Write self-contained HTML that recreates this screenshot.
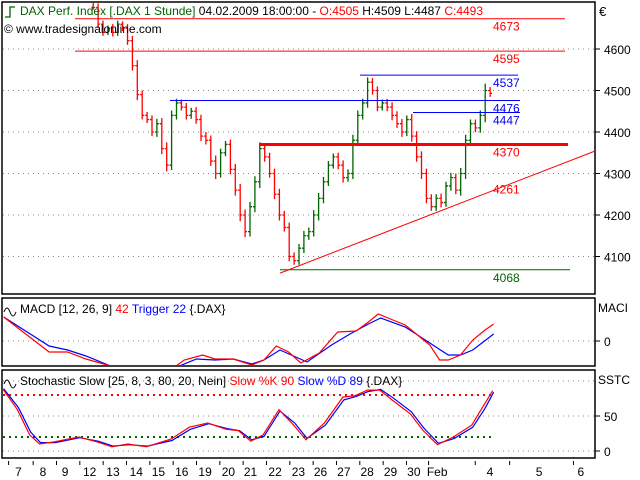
<!DOCTYPE html>
<html><head><meta charset="utf-8"><style>
body{margin:0;background:#fff;}
svg{display:block;font-family:"Liberation Sans",sans-serif;}
</style></head><body>
<svg id="c" width="640" height="480">
<rect x="0" y="0" width="640" height="480" fill="#fff"/>
</svg>
<script>
// ===== data =====
const closes=[4980,4960,4940,4950,4920,4900,4880,4890,4860,4850,4830,4840,4810,4790,4780,4760,4740,4720,4700,
4660,4640,4650,4640,4660,4650,4620,4560,4490,4440,4430,4400,4420,4360,4320,4440,4470,4460,4440,4450,4430,
4390,4380,4330,4300,4350,4370,4310,4260,4200,4160,4220,4280,4360,4340,4300,4250,4200,4170,4100,4090,
4120,4150,4160,4200,4240,4280,4320,4340,4320,4290,4300,4380,4440,4470,4520,4500,4460,4470,4460,4440,
4420,4400,4430,4390,4340,4300,4240,4220,4240,4230,4270,4290,4260,4300,4380,4420,4410,4440,4500,4493];
const ranges=[20,25,15,20,25,20,15,20,25,20,15,20,25,20,15,20,25,20,15,
30,25,20,30,25,20,30,35,40,30,25,30,35,40,45,35,30,25,30,25,30,
35,30,35,40,30,25,35,40,45,40,35,40,45,35,30,35,40,30,35,30,
30,35,30,35,40,35,30,25,30,35,30,40,35,30,35,30,30,25,30,35,
30,35,30,40,35,40,35,30,30,35,30,35,30,40,40,30,30,35,50,25];
const priceTicks=[4600,4500,4400,4300,4200,4100];
const levelVals=[4673,4595,4537,4476,4447,4370,4261,4068];
const macdX=[3,40,55,70,90,100,120,140,150,165,175,190,205,215,225,235,245,260,275,290,300,308,320,330,340,350,358,365,375,385,395,402];
const macdRed=[24,-11,-11,-18,-25,-30,-32,-28,-19,-14,-18,-18,-24,-19,-5,-11,-22,-12,9,10,19,27,21,16,6,-4,-19,-19,-14,1,11,17];
const trigX=[3,40,55,70,90,100,120,140,160,175,190,205,215,228,250,270,285,300,310,330,350,365,375,385,402];
const macdBlue=[24,-5,-9,-15,-25,-30,-32,-28,-18,-19,-18,-23,-19,-9,-21,-4,7,17,23,14,-2,-14,-14,-9,7];
const stochX=[3,15,25,33,45,65,80,92,105,120,140,155,170,185,195,205,215,228,240,250,265,280,290,300,310,320,335,345,357,370,385,395,402];
const slowK=[89,59,23,10,13,20,13,6,10,6,17,34,40,31,29,14,23,59,37,16,40,77,79,87,87,73,53,30,9,20,37,66,86];
const slowD=[89,62,27,12,12,19,14,7,9,7,15,31,39,32,29,16,21,57,40,18,37,73,78,85,88,76,56,33,11,18,34,61,84];
const dayLabels=["7","8","9","12","13","14","15","16","19","20","21","22","23","26","27","28","29","30","Feb","4","5","6"];
const dayLabelX=[15,35,53,73,92,111,129,148,167,186,204,224,243,261,280,299,318,337,356,399,439,473];
const dayTickX=[7,27,46,65,84,103,122,141,160,179,198,217,236,255,274,293,312,331,349,387,415,467];

// ===== helpers =====
const svg=document.getElementById('c');const NS='http://www.w3.org/2000/svg';
function mk(t,a,p){const e=document.createElementNS(NS,t);for(const k in a)e.setAttribute(k,a[k]);(p||svg).appendChild(e);return e;}
function txt(x,y,s,fill,size,anchor){const e=mk('text',{x:x,y:y,fill:fill,'font-size':size||12,'text-anchor':anchor||'start'});e.textContent=s;return e;}
const py=p=>49+(4600-p)*0.415;
const bx=i=>5+i*4.9;
const my=v=>341-v;
const sy=v=>451-v*0.7;
const ix=x=>x*1.228;

// panels
let e;
e=mk('rect',{x:2,y:2,width:593,height:292,fill:'none',stroke:'#000','stroke-width':1.5});

e=mk('rect',{x:2,y:298,width:593,height:68,fill:'none',stroke:'#000','stroke-width':1.5});

e=mk('rect',{x:2,y:370,width:593,height:88,fill:'none',stroke:'#000','stroke-width':1.5});


const clipP=mk('clipPath',{id:'cp'});mk('rect',{x:3,y:3,width:591,height:290},clipP);
const clipM=mk('clipPath',{id:'cm'});mk('rect',{x:3,y:299,width:591,height:66},clipM);
const clipS=mk('clipPath',{id:'cs'});mk('rect',{x:3,y:371,width:591,height:86},clipS);

// price grid & axis
priceTicks.forEach(p=>{
 e=mk('line',{x1:3,x2:594,y1:py(p),y2:py(p),stroke:'#888','stroke-dasharray':'1,4'});
 
 mk('line',{x1:595,x2:600,y1:py(p),y2:py(p),stroke:'#000'});
 e=txt(604,py(p)+5,String(p),'#000',12);
 
});
e=txt(599,16,'€','#000',13);

const gP=mk('g',{'clip-path':'url(#cp)'});
// bars
closes.forEach((c,i)=>{
 const o=i>0?closes[i-1]:c;const r=ranges[i];
 const hi=Math.max(o,c)+r/3,lo=Math.min(o,c)-r/3;
 const col=c>=o?'#006400':'#ff0000';const x=bx(i);
 const b=mk('path',{d:`M${x} ${py(hi)}V${py(lo)}M${x-2} ${py(o)}H${x}M${x} ${py(c)}H${x+2}`,stroke:col,'stroke-width':1.3,fill:'none'},gP);
 
});
// levels
const levelDefs=[[75,565,'#ff0000',1,'#ff0000'],[75,565,'#ff0000',1,'#ff0000'],[360,518,'#0000ff',1,'#0000ff'],[170,520,'#0000ff',1,'#0000ff'],[413,520,'#0000ff',1,'#0000ff'],[260,568,'#ff0000',3,'#ff0000'],[null,null,null,0,'#ff0000'],[280,570,'#006400',1,'#006400']];
const labelDy=[12,12,12,12,12,12,0,12];
levelVals.forEach((v,i)=>{
 const d=levelDefs[i];
 if(d[0]!==null){e=mk('line',{x1:d[0],x2:d[1],y1:py(v),y2:py(v),stroke:d[2],'stroke-width':d[3]},gP);
 }
 e=txt(493,py(v)+labelDy[i]+(i==6?4:0),String(v),d[4],12);
 
});
e=mk('line',{x1:280,y1:py(4060),x2:596,y2:py(4355),stroke:'#ff0000','stroke-width':1},gP);


// title
e=mk('path',{d:'M5 17H10V7H15',stroke:'#006400',fill:'none','stroke-width':1.3});
e=txt(20,15,'','#000',12);
e.innerHTML='<tspan fill="#006400">DAX Perf. Index [.DAX  1 Stunde]</tspan><tspan fill="#000"> 04.02.2009 18:00:00 - </tspan><tspan fill="#ff0000">O:4505 </tspan><tspan fill="#000">H:4509 L:4487 </tspan><tspan fill="#ff0000">C:4493</tspan>';

e=txt(4,33,'© www.tradesignalonline.com','#000',12);


// MACD
e=mk('line',{x1:3,x2:594,y1:341,y2:341,stroke:'#888','stroke-dasharray':'1,4'});
mk('line',{x1:595,x2:600,y1:341,y2:341,stroke:'#000'});
txt(604,346,'0','#000',12);
e=txt(598,312,'MACI','#000',12);
const gM=mk('g',{'clip-path':'url(#cm)'});
e=mk('polyline',{points:trigX.map((x,i)=>ix(x)+','+my(macdBlue[i])).join(' '),fill:'none',stroke:'#0000ff','stroke-width':1.2},gM);

e=mk('polyline',{points:macdX.map((x,i)=>ix(x)+','+my(macdRed[i])).join(' '),fill:'none',stroke:'#ff0000','stroke-width':1.2},gM);

e=txt(20,313,'','#000',12);
e.innerHTML='<tspan>MACD [12, 26, 9] </tspan><tspan fill="#ff0000">42 </tspan><tspan fill="#0000ff">Trigger 22 </tspan><tspan>{.DAX}</tspan>';

mk('path',{d:'M4 312q3-8 6 0t6 0',stroke:'#000',fill:'none'});

// Stochastic
[0,50,100].forEach(g=>{mk('line',{x1:3,x2:594,y1:sy(g),y2:sy(g),stroke:'#888','stroke-dasharray':'1,4'});});
[0,50].forEach(v=>{mk('line',{x1:595,x2:600,y1:sy(v),y2:sy(v),stroke:'#000'});
 e=txt(604,sy(v)+5,String(v),'#000',12);});
e=mk('line',{x1:3,x2:ix(402),y1:sy(80),y2:sy(80),stroke:'#ff0000','stroke-width':2,'stroke-dasharray':'2,4'});

e=mk('line',{x1:3,x2:ix(402),y1:sy(20),y2:sy(20),stroke:'#006400','stroke-width':2,'stroke-dasharray':'2,4'});

e=txt(598,384,'SSTC','#000',12);
const gS=mk('g',{'clip-path':'url(#cs)'});
e=mk('polyline',{points:stochX.map((x,i)=>ix(x)+','+sy(slowD[i])).join(' '),fill:'none',stroke:'#0000ff','stroke-width':1.2},gS);

e=mk('polyline',{points:stochX.map((x,i)=>(ix(x)-1)+','+sy(slowK[i])).join(' '),fill:'none',stroke:'#ff0000','stroke-width':1.2},gS);

e=txt(20,385,'','#000',12);
e.innerHTML='<tspan>Stochastic Slow [25, 8, 3, 80, 20, Nein] </tspan><tspan fill="#ff0000">Slow %K 90 </tspan><tspan fill="#0000ff">Slow %D 89 </tspan><tspan>{.DAX}</tspan>';

mk('path',{d:'M4 384q3-8 6 0t6 0',stroke:'#000',fill:'none'});

// x axis
dayTickX.forEach(x=>mk('line',{x1:ix(x),x2:ix(x),y1:461,y2:465,stroke:'#000'}));
dayLabels.forEach((s,i)=>{e=txt(ix(dayLabelX[i]),476,s,'#000',12,'middle');
 });
</script>
</body></html>
